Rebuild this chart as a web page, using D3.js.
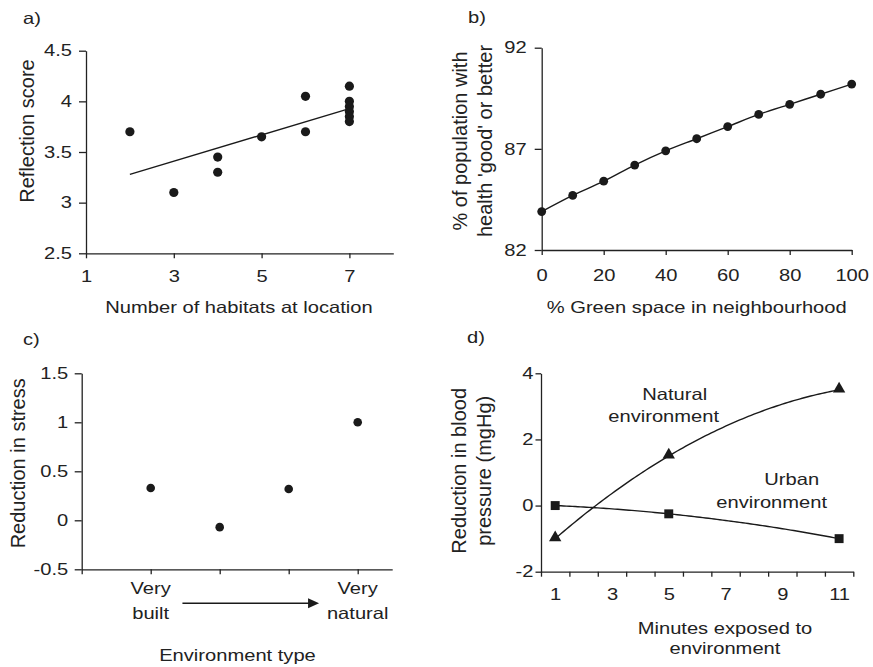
<!DOCTYPE html>
<html>
<head>
<meta charset="utf-8">
<script src="https://cdn.jsdelivr.net/npm/d3@7"></script>
<style>
    body { margin: 0; background: #fff; }
    text { font-family: 'Liberation Sans', Arial, Helvetica, sans-serif; font-size: 16.5px; fill: #222; }
    text.rot { font-size: 20px; }
    .axis path, .axis line { stroke: #222; stroke-width: 1.3; }
</style>
</head>
<body>
<div id="chart"></div>
<script>
// a) habitats vs reflection
const habitats = [2, 3, 4, 4, 5, 6, 6, 7, 7, 7, 7, 7, 7];
const reflection = [3.7, 3.1, 3.45, 3.3, 3.65, 4.05, 3.7, 4.15, 4.0, 3.95, 3.9, 3.85, 3.8];
const reflectionTicks = [2.5, 3, 3.5, 4, 4.5];
const habitatTicks = [1, 3, 5, 7];

// b) green space vs health
const greenSpace = [0, 10, 20, 30, 40, 50, 60, 70, 80, 90, 100];
const goodHealth = [83.9, 84.7, 85.4, 86.2, 86.9, 87.5, 88.1, 88.7, 89.2, 89.7, 90.2];
const healthTicks = [82, 87, 92];
const greenTicks = [0, 20, 40, 60, 80, 100];

// c) environment type vs stress
const envType = [1, 2, 3, 4];
const stressReduction = [0.33, -0.07, 0.32, 1.0];
const stressTicks = [-0.5, 0, 0.5, 1, 1.5];
const envLabelPos = [1, 4];
const envLabels = [['Very', 'built'], ['Very', 'natural']];

// d) minutes vs blood pressure
const minutes = [1, 5, 11];
const naturalBP = [-1, 1.5, 3.5];
const urbanBP = [0, -0.25, -1];
const bpTicks = [-2, 0, 2, 4];
const minuteLabels = [1, 3, 5, 7, 9, 11];

const WIDEN = 1.22;
const INK = '#1a1a1a';

const svg = d3.select('#chart').append('svg')
    .attr('width', 873)
    .attr('height', 667);

function styleAxis(g) {
    g.attr('class', 'axis').attr('font-size', null).attr('font-family', null);
    g.selectAll('text').classed('h', true);
    return g;
}

function label(x, y, txt, anchor) {
    return svg.append('text')
        .attr('class', 'h')
        .attr('x', x)
        .attr('y', y)
        .attr('text-anchor', anchor || 'start')
        .text(txt);
}

function rotLabel(x, y, txt) {
    svg.append('text')
        .attr('class', 'rot')
        .attr('text-anchor', 'middle')
        .attr('transform', `translate(${x},${y}) rotate(-90)`)
        .text(txt);
}

// least squares line
function linearFit(xs, ys) {
    const mx = d3.mean(xs), my = d3.mean(ys);
    let sxy = 0, sxx = 0;
    xs.forEach((x, i) => {
        sxy += (x - mx) * (ys[i] - my);
        sxx += (x - mx) * (x - mx);
    });
    const b = sxy / sxx;
    return x => my + b * (x - mx);
}

// 2nd order polynomial through three points (Newton form)
function quadFit(xs, ys) {
    const f01 = (ys[1] - ys[0]) / (xs[1] - xs[0]);
    const f12 = (ys[2] - ys[1]) / (xs[2] - xs[1]);
    const f012 = (f12 - f01) / (xs[2] - xs[0]);
    return x => ys[0] + f01 * (x - xs[0]) + f012 * (x - xs[0]) * (x - xs[1]);
}

const plain = d => String(d);

// ---------- a ----------
const xA = d3.scaleLinear().domain([1, 8]).range([86, 393.3]);
const yA = d3.scaleLinear().domain([2.5, 4.5]).range([253.3, 50.7]);

svg.append('g').attr('transform', `translate(${xA.range()[0]},0)`)
    .call(d3.axisLeft(yA).tickValues(reflectionTicks).tickSize(7).tickSizeOuter(0).tickPadding(7).tickFormat(plain))
    .call(styleAxis);
svg.append('g').attr('transform', `translate(0,${yA.range()[0]})`)
    .call(d3.axisBottom(xA).tickValues(habitatTicks).tickSize(5).tickSizeOuter(0).tickPadding(11.5).tickFormat(plain))
    .call(styleAxis);

const fitA = linearFit(habitats, reflection);
const xExt = d3.extent(habitats);
svg.append('line')
    .attr('x1', xA(xExt[0])).attr('y1', yA(fitA(xExt[0])))
    .attr('x2', xA(xExt[1])).attr('y2', yA(fitA(xExt[1])))
    .attr('stroke', INK).attr('stroke-width', 1.4);

svg.append('g').selectAll('circle')
    .data(habitats)
    .join('circle')
    .attr('cx', d => xA(d))
    .attr('cy', (d, i) => yA(reflection[i]))
    .attr('r', 4.6)
    .attr('fill', INK);

label(23, 24, 'a)');
rotLabel(33.5, 131, 'Reflection score');
label(239, 313, 'Number of habitats at location', 'middle');

// ---------- b ----------
const xB = d3.scaleLinear().domain([0, 100]).range([541.7, 851.7]);
const yB = d3.scaleLinear().domain([82, 92]).range([250, 47.7]);

svg.append('g').attr('transform', `translate(${xB.range()[0]},0)`)
    .call(d3.axisLeft(yB).tickValues(healthTicks).tickSize(7).tickSizeOuter(0).tickPadding(8).tickFormat(plain))
    .call(styleAxis);
svg.append('g').attr('transform', `translate(0,${yB.range()[0]})`)
    .call(d3.axisBottom(xB).tickValues(greenTicks).tickSize(5).tickSizeOuter(0).tickPadding(14.5).tickFormat(plain))
    .call(styleAxis);

const lineB = d3.line()
    .x(d => xB(d))
    .y((d, i) => yB(goodHealth[i]))
    .curve(d3.curveCatmullRom);
svg.append('path')
    .attr('d', lineB(greenSpace))
    .attr('fill', 'none')
    .attr('stroke', INK)
    .attr('stroke-width', 1.4);

svg.append('g').selectAll('circle')
    .data(greenSpace)
    .join('circle')
    .attr('cx', d => xB(d))
    .attr('cy', (d, i) => yB(goodHealth[i]))
    .attr('r', 4.4)
    .attr('fill', INK);

label(468, 23, 'b)');
rotLabel(467, 141, '% of population with');
rotLabel(491.5, 141, "health 'good' or better");
label(696.7, 313, '% Green space in neighbourhood', 'middle');

// ---------- c ----------
const xC = d3.scaleLinear().domain([0, 4.5]).range([81.7, 392.2]);
const yC = d3.scaleLinear().domain([-0.5, 1.5]).range([569.3, 373.3]);

svg.append('g').attr('transform', `translate(${xC.range()[0]},0)`)
    .call(d3.axisLeft(yC).tickValues(stressTicks).tickSize(7).tickSizeOuter(0).tickPadding(6.5).tickFormat(plain))
    .call(styleAxis);
svg.append('g').attr('transform', `translate(0,${yC.range()[0]})`)
    .call(d3.axisBottom(xC).tickValues([0].concat(envType)).tickSize(5).tickSizeOuter(0).tickFormat(''))
    .call(styleAxis);

svg.append('g').selectAll('circle')
    .data(envType)
    .join('circle')
    .attr('cx', d => xC(d))
    .attr('cy', (d, i) => yC(stressReduction[i]))
    .attr('r', 4.3)
    .attr('fill', INK);

envLabelPos.forEach((p, i) => {
    label(xC(p), 593.5, envLabels[i][0], 'middle');
    label(xC(p), 618.5, envLabels[i][1], 'middle');
});

// arrow from built to natural
const arrowY = 603.3;
const ax0 = xC(1.46), ax1 = xC(3.44);
svg.append('line')
    .attr('x1', ax0).attr('y1', arrowY)
    .attr('x2', ax1 - 9).attr('y2', arrowY)
    .attr('stroke', INK).attr('stroke-width', 1.4);
svg.append('path')
    .attr('d', `M${ax1},${arrowY} L${ax1 - 11},${arrowY - 5} L${ax1 - 11},${arrowY + 5} Z`)
    .attr('fill', INK);

label(23, 345, 'c)');
rotLabel(24.5, 463.3, 'Reduction in stress');
label(237.5, 660.5, 'Environment type', 'middle');

// ---------- d ----------
const xD = d3.scaleLinear().domain([0.5, 11.5]).range([541, 853.3]);
const yD = d3.scaleLinear().domain([-2, 4]).range([571.7, 373.3]);

svg.append('g').attr('transform', `translate(${xD.range()[0]},0)`)
    .call(d3.axisLeft(yD).tickValues(bpTicks).tickSize(5.5).tickSizeOuter(0).tickPadding(2).tickFormat(plain))
    .call(styleAxis);
svg.append('g').attr('transform', `translate(0,${yD.range()[0]})`)
    .call(d3.axisBottom(xD).tickValues(d3.range(0.5, 12, 1)).tickSize(5).tickSizeOuter(0).tickFormat(''))
    .call(styleAxis);
svg.append('g').attr('transform', `translate(0,${yD.range()[0]})`)
    .call(d3.axisBottom(xD).tickValues(minuteLabels).tickSize(0).tickPadding(17).tickFormat(plain))
    .call(styleAxis)
    .call(g => g.select('.domain').remove());

const minRange = d3.extent(minutes);
const curveXs = d3.range(minRange[0], minRange[1] + 0.001, 0.1);
[naturalBP, urbanBP].forEach(series => {
    const fit = quadFit(minutes, series);
    svg.append('path')
        .attr('d', d3.line().x(d => xD(d)).y(d => yD(fit(d)))(curveXs))
        .attr('fill', 'none')
        .attr('stroke', INK)
        .attr('stroke-width', 1.4);
});

svg.append('g').selectAll('path')
    .data(minutes)
    .join('path')
    .attr('transform', (d, i) => `translate(${xD(d)},${yD(naturalBP[i]) - 1})`)
    .attr('d', d3.symbol(d3.symbolTriangle, 66))
    .attr('fill', INK);

svg.append('g').selectAll('path')
    .data(minutes)
    .join('path')
    .attr('transform', (d, i) => `translate(${xD(d)},${yD(urbanBP[i])})`)
    .attr('d', d3.symbol(d3.symbolSquare, 80))
    .attr('fill', INK);

label(674.7, 400, 'Natural', 'middle');
label(663.7, 421.7, 'environment', 'middle');
label(791.7, 485, 'Urban', 'middle');
label(771.7, 508.3, 'environment', 'middle');

label(467, 343, 'd)');
rotLabel(466, 470.8, 'Reduction in blood');
rotLabel(491, 470.8, 'pressure (mgHg)');
label(725, 634, 'Minutes exposed to', 'middle');
label(725, 654, 'environment', 'middle');

// horizontal text in the figure is set wider than the rotated titles
svg.selectAll('text.h').each(function () {
    const len = this.getComputedTextLength();
    if (len > 0) {
        d3.select(this)
            .attr('textLength', len * WIDEN)
            .attr('lengthAdjust', 'spacingAndGlyphs');
    }
});
</script>
</body>
</html>
